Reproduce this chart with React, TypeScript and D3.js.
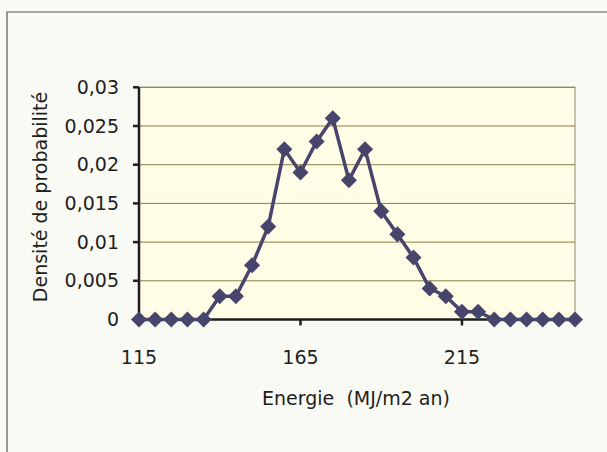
import React from "react";
import * as d3 from "d3";

const energies = [115,120,125,130,135,140,145,150,155,160,165,170,175,180,185,190,195,200,205,210,215,220,225,230,235,240,245,250];
const densities = [0,0,0,0,0,0.003,0.003,0.007,0.012,0.022,0.019,0.023,0.026,0.018,0.022,0.014,0.011,0.008,0.004,0.003,0.001,0.001,0,0,0,0,0,0];
const xTicks = [115,165,215];
const yTicks = [0,0.005,0.01,0.015,0.02,0.025,0.03];
const yTickLabels = ["0","0,005","0,01","0,015","0,02","0,025","0,03"];

const W = 607, H = 452;
const left = 139, right = 575, top = 87.3, bottom = 319.5;
const font = "'DejaVu Sans', sans-serif";
const fs = 19;
const ink = "#1e1e1e";
const markColor = "#48456c";

export default function App() {
  const x = d3.scaleLinear().domain([115, 250]).range([left, right]);
  const y = d3.scaleLinear().domain([0, 0.03]).range([bottom, top]);
  const line = d3.line<number>().x((_, i) => x(energies[i])).y((d) => y(d));
  const diamond = d3.symbol().type(d3.symbolDiamond2).size(165)();
  return (
    <div style={{ position: "fixed", left: 0, top: 0 }}>
      <svg width={W} height={H} style={{ display: "block", background: "#fafaf5" }}>
        <path d={`M7,${H} V12 H${W}`} fill="none" stroke="#555" strokeWidth={1.2} />
        <rect x={left} y={top} width={right - left} height={bottom - top} fill="#fffde6" stroke="#8c8a7a" strokeWidth={1} />
        {yTicks.slice(1).map((t) => (
          <line key={t} x1={left} x2={right} y1={y(t)} y2={y(t)} stroke="#8a7d45" strokeWidth={1} />
        ))}
        <line x1={left} x2={left} y1={top} y2={bottom} stroke={ink} strokeWidth={2.5} />
        <line x1={left} x2={right} y1={bottom} y2={bottom} stroke={ink} strokeWidth={2.5} />
        {yTicks.map((t, i) => (
          <g key={t}>
            <line x1={left - 6} x2={left} y1={y(t)} y2={y(t)} stroke={ink} strokeWidth={2.5} />
            <text x={119} y={y(t)} dy="0.35em" textAnchor="end" fontFamily={font} fontSize={fs} fill={ink}>{yTickLabels[i]}</text>
          </g>
        ))}
        {xTicks.map((t) => (
          <g key={t}>
            <line x1={x(t)} x2={x(t)} y1={bottom} y2={bottom + 6} stroke={ink} strokeWidth={2.5} />
            <text x={x(t)} y={357} dy="0.35em" textAnchor="middle" fontFamily={font} fontSize={fs} fill={ink}>{t}</text>
          </g>
        ))}
        <path d={line(densities) || ""} fill="none" stroke={markColor} strokeWidth={3.5} />
        {densities.map((d, i) => (
          <path key={i} d={diamond || ""} transform={`translate(${x(energies[i])},${y(d)})`} fill={markColor} />
        ))}
        <text x={356} y={398} dy="0.35em" textAnchor="middle" fontFamily={font} fontSize={fs} fill={ink} style={{ whiteSpace: "pre" }}>{"Energie  (MJ/m2 an)"}</text>
        <text transform="translate(40,197) rotate(-90)" dy="0.35em" textAnchor="middle" fontFamily={font} fontSize={fs} fill={ink}>Densité de probabilité</text>
      </svg>
    </div>
  );
}
